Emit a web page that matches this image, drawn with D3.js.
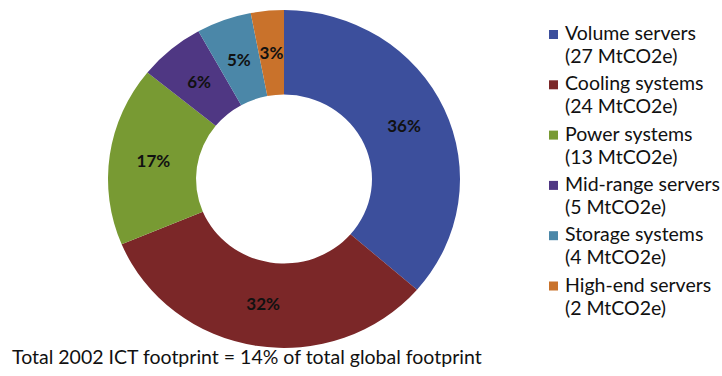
<!DOCTYPE html>
<html>
<head>
<meta charset="utf-8">
<script src="https://cdn.jsdelivr.net/npm/d3@7"></script>
<style>
body { margin: 0; background: #fff; }
svg { display: block; font-family: Lato, "Open Sans", sans-serif; }
</style>
</head>
<body>
<svg width="722" height="376"></svg>
<script>
var categories = ["Volume servers", "Cooling systems", "Power systems", "Mid-range servers", "Storage systems", "High-end servers"];
var emissions = ["27 MtCO2e", "24 MtCO2e", "13 MtCO2e", "5 MtCO2e", "4 MtCO2e", "2 MtCO2e"];
var percents = [36, 32, 17, 6, 5, 3];
var colors = ["#3c4f9c", "#7b2728", "#789a33", "#4f3783", "#4b87a8", "#c9722b"];
var caption = "Total 2002 ICT footprint = 14% of total global footprint";

var svg = d3.select("svg"),
		cx = 284, cy = 179,
		outerR = 176, innerR = 88;

var data = categories.map(function(c, i) {
	return {name: c, value: percents[i], em: emissions[i], color: colors[i]};
});

var pie = d3.pie().sort(null).value(function(d) { return d.value; });
var arc = d3.arc().innerRadius(innerR).outerRadius(outerR);

// slightly squashed vertically like the original
var g = svg.append("g")
		.attr("transform", "translate(" + cx + "," + cy + ") scale(1,0.96)");

var slices = g.selectAll(".slice")
	.data(pie(data))
	.enter().append("g")
		.attr("class", "slice");

slices.append("path")
		.attr("d", arc)
		.style("fill", function(d) { return d.data.color; });

var labels = svg.append("g")
		.attr("transform", "translate(" + cx + "," + cy + ")");

labels.selectAll("text")
	.data(pie(data))
	.enter().append("text")
		.attr("transform", function(d) {
			var c = arc.centroid(d);
			return "translate(" + c[0] + "," + (c[1] * 0.96) + ")";
		})
		.attr("text-anchor", "middle")
		.attr("dy", "0.35em")
		.style("font-size", "17px")
		.style("font-weight", "bold")
		.style("fill", "#111")
		.text(function(d) { return d.data.value + "%"; });

// legend
var legend = svg.append("g")
		.attr("transform", "translate(549,0)");

var item = legend.selectAll(".item")
	.data(data)
	.enter().append("g")
		.attr("class", "item")
		.attr("transform", function(d, i) { return "translate(0," + (40 + i * 50.3) + ")"; });

item.append("rect")
		.attr("x", 0)
		.attr("y", -10)
		.attr("width", 9)
		.attr("height", 9)
		.style("fill", function(d) { return d.color; });

item.append("text")
		.attr("x", 16)
		.attr("y", 0)
		.style("font-size", "19.5px")
		.style("fill", "#111")
		.text(function(d) { return d.name; });

item.append("text")
		.attr("x", 16)
		.attr("y", 23)
		.style("font-size", "19.5px")
		.style("fill", "#111")
		.text(function(d) { return "(" + d.em + ")"; });

svg.append("text")
		.attr("x", 12)
		.attr("y", 364)
		.style("font-size", "19.5px")
		.style("fill", "#111")
		.text(caption);
</script>
</body>
</html>
